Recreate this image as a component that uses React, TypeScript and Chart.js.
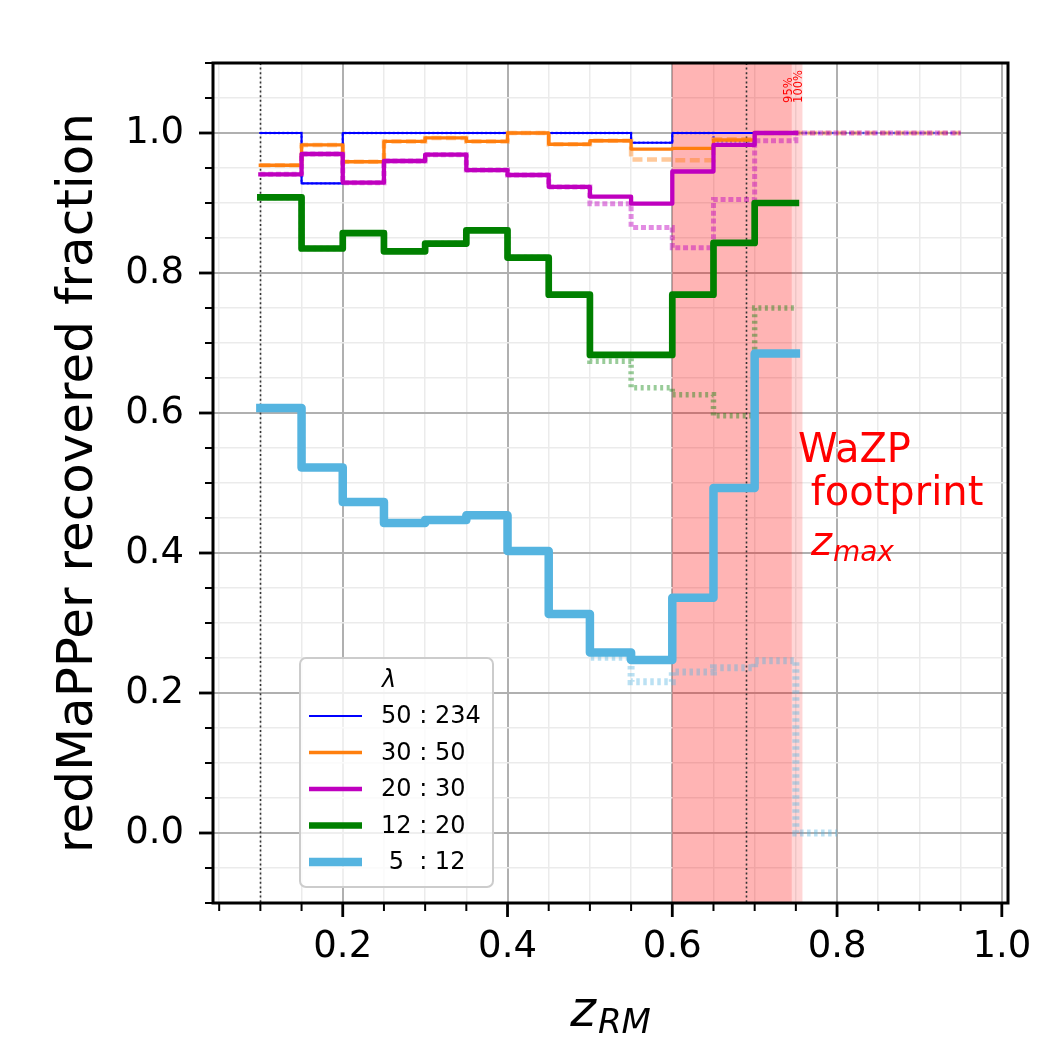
import { useEffect, useRef } from 'react';
import { Chart, registerables } from 'chart.js';

Chart.register(...registerables);

// ---------------- data ----------------
const binEdges = [0.10, 0.15, 0.20, 0.25, 0.30, 0.35, 0.40, 0.45, 0.50, 0.55, 0.60, 0.65, 0.70, 0.75, 0.80, 0.85, 0.90, 0.95];

const legendLabels = ['50 : 234', '30 : 50', '20 : 30', '12 : 20', ' 5  : 12'];

// solid: clusters inside footprint (bins 0.10 - 0.75)
const lam50_234 = [1.0, 0.928, 1.0, 1.0, 1.0, 1.0, 1.0, 1.0, 1.0, 0.986, 1.0, 1.0, 1.0];
const lam30_50 = [0.954, 0.983, 0.959, 0.988, 0.993, 0.988, 1.0, 0.984, 0.989, 0.977, 0.978, 0.990, 1.0];
const lam20_30 = [0.941, 0.970, 0.929, 0.960, 0.969, 0.947, 0.940, 0.923, 0.909, 0.899, 0.945, 0.983, 1.0];
const lam12_20 = [0.908, 0.835, 0.857, 0.831, 0.842, 0.861, 0.822, 0.769, 0.683, 0.683, 0.769, 0.843, 0.900];
const lam5_12 = [0.607, 0.522, 0.473, 0.443, 0.447, 0.454, 0.403, 0.313, 0.258, 0.247, 0.336, 0.493, 0.685];

// dotted: all clusters
const lam50_234All = [1.0, 0.928, 1.0, 1.0, 1.0, 1.0, 1.0, 1.0, 1.0, 0.986, 1.0, 0.988, 1.0, 1.0, 1.0, 1.0, 1.0];
const lam30_50All = [0.954, 0.983, 0.959, 0.988, 0.993, 0.988, 1.0, 0.984, 0.989, 0.962, 0.961, 0.991, 1.0, 1.0, 1.0, 1.0, 1.0];
const lam20_30All = [0.941, 0.970, 0.929, 0.960, 0.969, 0.947, 0.940, 0.923, 0.899, 0.865, 0.836, 0.905, 0.989, 1.0, 1.0, 1.0, 1.0];
const lam12_20All = [0.908, 0.835, 0.857, 0.831, 0.842, 0.861, 0.822, 0.769, 0.674, 0.636, 0.626, 0.596, 0.750];
const lam5_12All = [0.607, 0.522, 0.473, 0.443, 0.447, 0.454, 0.403, 0.313, 0.251, 0.216, 0.230, 0.236, 0.246, 0.0];

const xMajorTicks = [0.2, 0.4, 0.6, 0.8, 1.0];
const yMajorTicks = [0.0, 0.2, 0.4, 0.6, 0.8, 1.0];
const minorStep = 0.05;

const spanStart = 0.6;
const spanEnds = [0.745, 0.758];
const spanLabels = ['95%', '100%'];
const vLines = [0.1, 0.69];

const X_MIN = 0.0425, X_MAX = 1.0075, Y_MIN = -0.1, Y_MAX = 1.1;

// ---------------- styles ----------------
const FONT = "'DejaVu Sans'";
const styles = [
  { color: '#0000ff', rgb: '0,0,255', w: 2.1, dw: 2.4, dash: [2, 2.4], da: 0.6 },
  { color: '#ff7f0e', rgb: '255,127,14', w: 3.4, dw: 4.5, dash: [10, 4.5], da: 0.42 },
  { color: '#bf00bf', rgb: '191,0,191', w: 4.3, dw: 5, dash: [5, 2.8], da: 0.45 },
  { color: '#008000', rgb: '0,128,0', w: 6.7, dw: 5.5, dash: [3, 3.5], da: 0.4 },
  { color: '#55b4e0', rgb: '85,180,224', w: 8.5, dw: 7, dash: [3.5, 3.5], da: 0.4 },
];

const solidSeries = [lam50_234, lam30_50, lam20_30, lam12_20, lam5_12];
const allSeries = [lam50_234All, lam30_50All, lam20_30All, lam12_20All, lam5_12All];

function steps(vals: number[]) {
  const pts = vals.map((v, i) => ({ x: binEdges[i], y: v }));
  pts.push({ x: binEdges[vals.length], y: vals[vals.length - 1] });
  return pts;
}

function tickList(min: number, max: number) {
  const out: number[] = [];
  const start = Math.ceil(min / minorStep - 1e-9);
  const end = Math.floor(max / minorStep + 1e-9);
  for (let i = start; i <= end; i++) out.push(Math.round(i * minorStep * 1000) / 1000);
  return out;
}

const isMajor = (v: number, majors: number[]) => majors.some((m) => Math.abs(m - v) < 1e-6);

const decorPlugin = {
  id: 'decor',
  beforeDatasetsDraw(chart: any) {
    const { ctx, chartArea: a, scales } = chart;
    const x = scales.x;
    ctx.save();
    ctx.beginPath();
    ctx.rect(a.left, a.top, a.right - a.left, a.bottom - a.top);
    ctx.clip();
    ctx.fillStyle = 'rgba(255,0,0,0.16)';
    for (const e of spanEnds) {
      const x0 = x.getPixelForValue(spanStart);
      const x1 = x.getPixelForValue(e);
      ctx.fillRect(x0, a.top, x1 - x0, a.bottom - a.top);
    }
    ctx.strokeStyle = '#333333';
    ctx.lineWidth = 1.6;
    ctx.setLineDash([2, 2.6]);
    for (const v of vLines) {
      const px = Math.round(x.getPixelForValue(v)) + 0.5;
      ctx.beginPath();
      ctx.moveTo(px, a.top);
      ctx.lineTo(px, a.bottom);
      ctx.stroke();
    }
    ctx.restore();
  },
  afterDatasetsDraw(chart: any) {
    const { ctx, scales } = chart;
    const x = scales.x, y = scales.y;
    ctx.save();
    ctx.fillStyle = '#ff0000';
    // span labels (rotated)
    ctx.font = `11.5px ${FONT}`;
    ctx.textAlign = 'left';
    ctx.textBaseline = 'alphabetic';
    spanEnds.forEach((e, i) => {
      ctx.save();
      ctx.translate(x.getPixelForValue(e), y.getPixelForValue(1.043));
      ctx.rotate(-Math.PI / 2);
      ctx.fillText(spanLabels[i], 0, 0);
      ctx.restore();
    });
    // WaZP footprint z_max
    const tx = x.getPixelForValue(0.7525);
    ctx.font = `40px ${FONT}`;
    ctx.fillText('WaZP', tx, y.getPixelForValue(0.530));
    ctx.fillText(' footprint', tx, y.getPixelForValue(0.469));
    ctx.font = `italic 40px ${FONT}`;
    const zb = y.getPixelForValue(0.397);
    const zx = tx + 13;
    ctx.fillText('z', zx, zb);
    const zw = ctx.measureText('z').width;
    ctx.font = `italic 28px ${FONT}`;
    ctx.fillText('max', zx + zw + 1, zb + 6);
    ctx.restore();
  },
  afterDraw(chart: any) {
    const { ctx, chartArea: a, scales } = chart;
    const x = scales.x, y = scales.y;
    ctx.save();
    // tick marks
    ctx.strokeStyle = '#000';
    for (const v of tickList(X_MIN, X_MAX)) {
      const maj = isMajor(v, xMajorTicks);
      const px = x.getPixelForValue(v);
      ctx.lineWidth = maj ? 2.8 : 2.0;
      ctx.beginPath();
      ctx.moveTo(px, a.bottom);
      ctx.lineTo(px, a.bottom + (maj ? 14 : 8));
      ctx.stroke();
    }
    for (const v of tickList(Y_MIN, Y_MAX)) {
      const maj = isMajor(v, yMajorTicks);
      const py = y.getPixelForValue(v);
      ctx.lineWidth = maj ? 2.8 : 2.0;
      ctx.beginPath();
      ctx.moveTo(a.left, py);
      ctx.lineTo(a.left - (maj ? 14 : 8), py);
      ctx.stroke();
    }
    // spines
    ctx.lineWidth = 3;
    ctx.strokeRect(a.left, a.top, a.right - a.left, a.bottom - a.top);

    // axis labels
    ctx.fillStyle = '#000';
    ctx.textBaseline = 'alphabetic';
    ctx.save();
    ctx.translate(92, (a.top + a.bottom) / 2);
    ctx.rotate(-Math.PI / 2);
    ctx.textAlign = 'center';
    ctx.font = `50px ${FONT}`;
    ctx.fillText('redMaPPer recovered fraction', 0, 0);
    ctx.restore();

    ctx.textAlign = 'left';
    ctx.font = `italic 49px ${FONT}`;
    const zW = ctx.measureText('z').width;
    ctx.font = `italic 34px ${FONT}`;
    const rmW = ctx.measureText('RM').width;
    const cx = (a.left + a.right) / 2;
    const sx = cx - (zW + 2 + rmW) / 2;
    ctx.font = `italic 49px ${FONT}`;
    ctx.fillText('z', sx, 1026);
    ctx.font = `italic 34px ${FONT}`;
    ctx.fillText('RM', sx + zW + 2, 1033);

    // legend
    const lx = 300, ly = 658, lw = 193, lh = 229;
    ctx.beginPath();
    ctx.roundRect(lx, ly, lw, lh, 6);
    ctx.fillStyle = 'rgba(255,255,255,0.8)';
    ctx.fill();
    ctx.strokeStyle = '#cccccc';
    ctx.lineWidth = 2;
    ctx.stroke();
    ctx.fillStyle = '#000';
    ctx.font = `italic 24px ${FONT}`;
    ctx.textAlign = 'left';
    ctx.textBaseline = 'middle';
    ctx.fillText('\u03bb', 382, 681);
    ctx.font = `24px ${FONT}`;
    legendLabels.forEach((lab, i) => {
      const ry = 716 + i * 36.5;
      const s = styles[i];
      ctx.strokeStyle = s.color;
      ctx.lineWidth = s.w;
      ctx.lineCap = 'butt';
      ctx.beginPath();
      ctx.moveTo(309, ry);
      ctx.lineTo(362, ry);
      ctx.stroke();
      ctx.fillStyle = '#000';
      ctx.fillText(lab, 381, ry + 1);
    });
    ctx.restore();
  },
};

export default function App() {
  const ref = useRef<HTMLCanvasElement | null>(null);
  useEffect(() => {
    if (!ref.current) return;
    const n = styles.length;
    const dotted = allSeries.map((vals, i) => ({
      data: steps(vals),
      stepped: 'before' as const,
      borderColor: `rgba(${styles[i].rgb},${styles[i].da})`,
      borderWidth: styles[i].dw,
      borderDash: styles[i].dash,
      borderCapStyle: 'butt' as const,
      borderJoinStyle: 'miter' as const,
      pointRadius: 0,
      fill: false,
      order: 2 * n - i,
    }));
    const solid = solidSeries.map((vals, i) => ({
      data: steps(vals),
      stepped: 'before' as const,
      borderColor: styles[i].color,
      borderWidth: styles[i].w,
      borderCapStyle: 'square' as const,
      borderJoinStyle: 'round' as const,
      pointRadius: 0,
      fill: false,
      order: n - i,
    }));
    const xTicks = tickList(X_MIN, X_MAX);
    const yTicks = tickList(Y_MIN, Y_MAX);
    const chart = new Chart(ref.current, {
      type: 'line',
      data: { datasets: [...dotted, ...solid] as any },
      options: {
        animation: false,
        responsive: false,
        devicePixelRatio: 1,
        layout: { padding: { top: 63, right: 54, bottom: 0, left: 0 } },
        plugins: { legend: { display: false }, tooltip: { enabled: false } },
        scales: {
          x: {
            type: 'linear',
            min: X_MIN,
            max: X_MAX,
            afterBuildTicks: (s: any) => { s.ticks = xTicks.map((v) => ({ value: v })); },
            afterFit: (s: any) => { s.height = 1062 - 903; },
            ticks: {
              autoSkip: false,
              maxRotation: 0,
              padding: 22,
              color: '#000',
              font: { family: 'DejaVu Sans', size: 37 },
              callback: (v: any) => (isMajor(Number(v), xMajorTicks) ? Number(v).toFixed(1) : ''),
            },
            grid: {
              drawTicks: false,
              color: (c: any) => (c.tick && isMajor(c.tick.value, xMajorTicks) ? '#b0b0b0' : '#ebebeb'),
              lineWidth: (c: any) => (c.tick && isMajor(c.tick.value, xMajorTicks) ? 2 : 1.5),
            },
            border: { display: false },
          },
          y: {
            type: 'linear',
            min: Y_MIN,
            max: Y_MAX,
            afterBuildTicks: (s: any) => { s.ticks = yTicks.map((v) => ({ value: v })); },
            afterFit: (s: any) => { s.width = 213; },
            ticks: {
              autoSkip: false,
              padding: 29,
              color: '#000',
              font: { family: 'DejaVu Sans', size: 37 },
              callback: (v: any) => (isMajor(Number(v), yMajorTicks) ? Number(v).toFixed(1) : ''),
            },
            grid: {
              drawTicks: false,
              color: (c: any) => (c.tick && isMajor(c.tick.value, yMajorTicks) ? '#b0b0b0' : '#ebebeb'),
              lineWidth: (c: any) => (c.tick && isMajor(c.tick.value, yMajorTicks) ? 2 : 1.5),
            },
            border: { display: false },
          },
        },
      },
      plugins: [decorPlugin],
    });
    return () => chart.destroy();
  }, []);
  return (
    <div style={{ position: 'fixed', left: 0, top: 0, width: 1062, height: 1062, background: '#fff' }}>
      <canvas ref={ref} width={1062} height={1062} style={{ display: 'block' }} />
    </div>
  );
}
